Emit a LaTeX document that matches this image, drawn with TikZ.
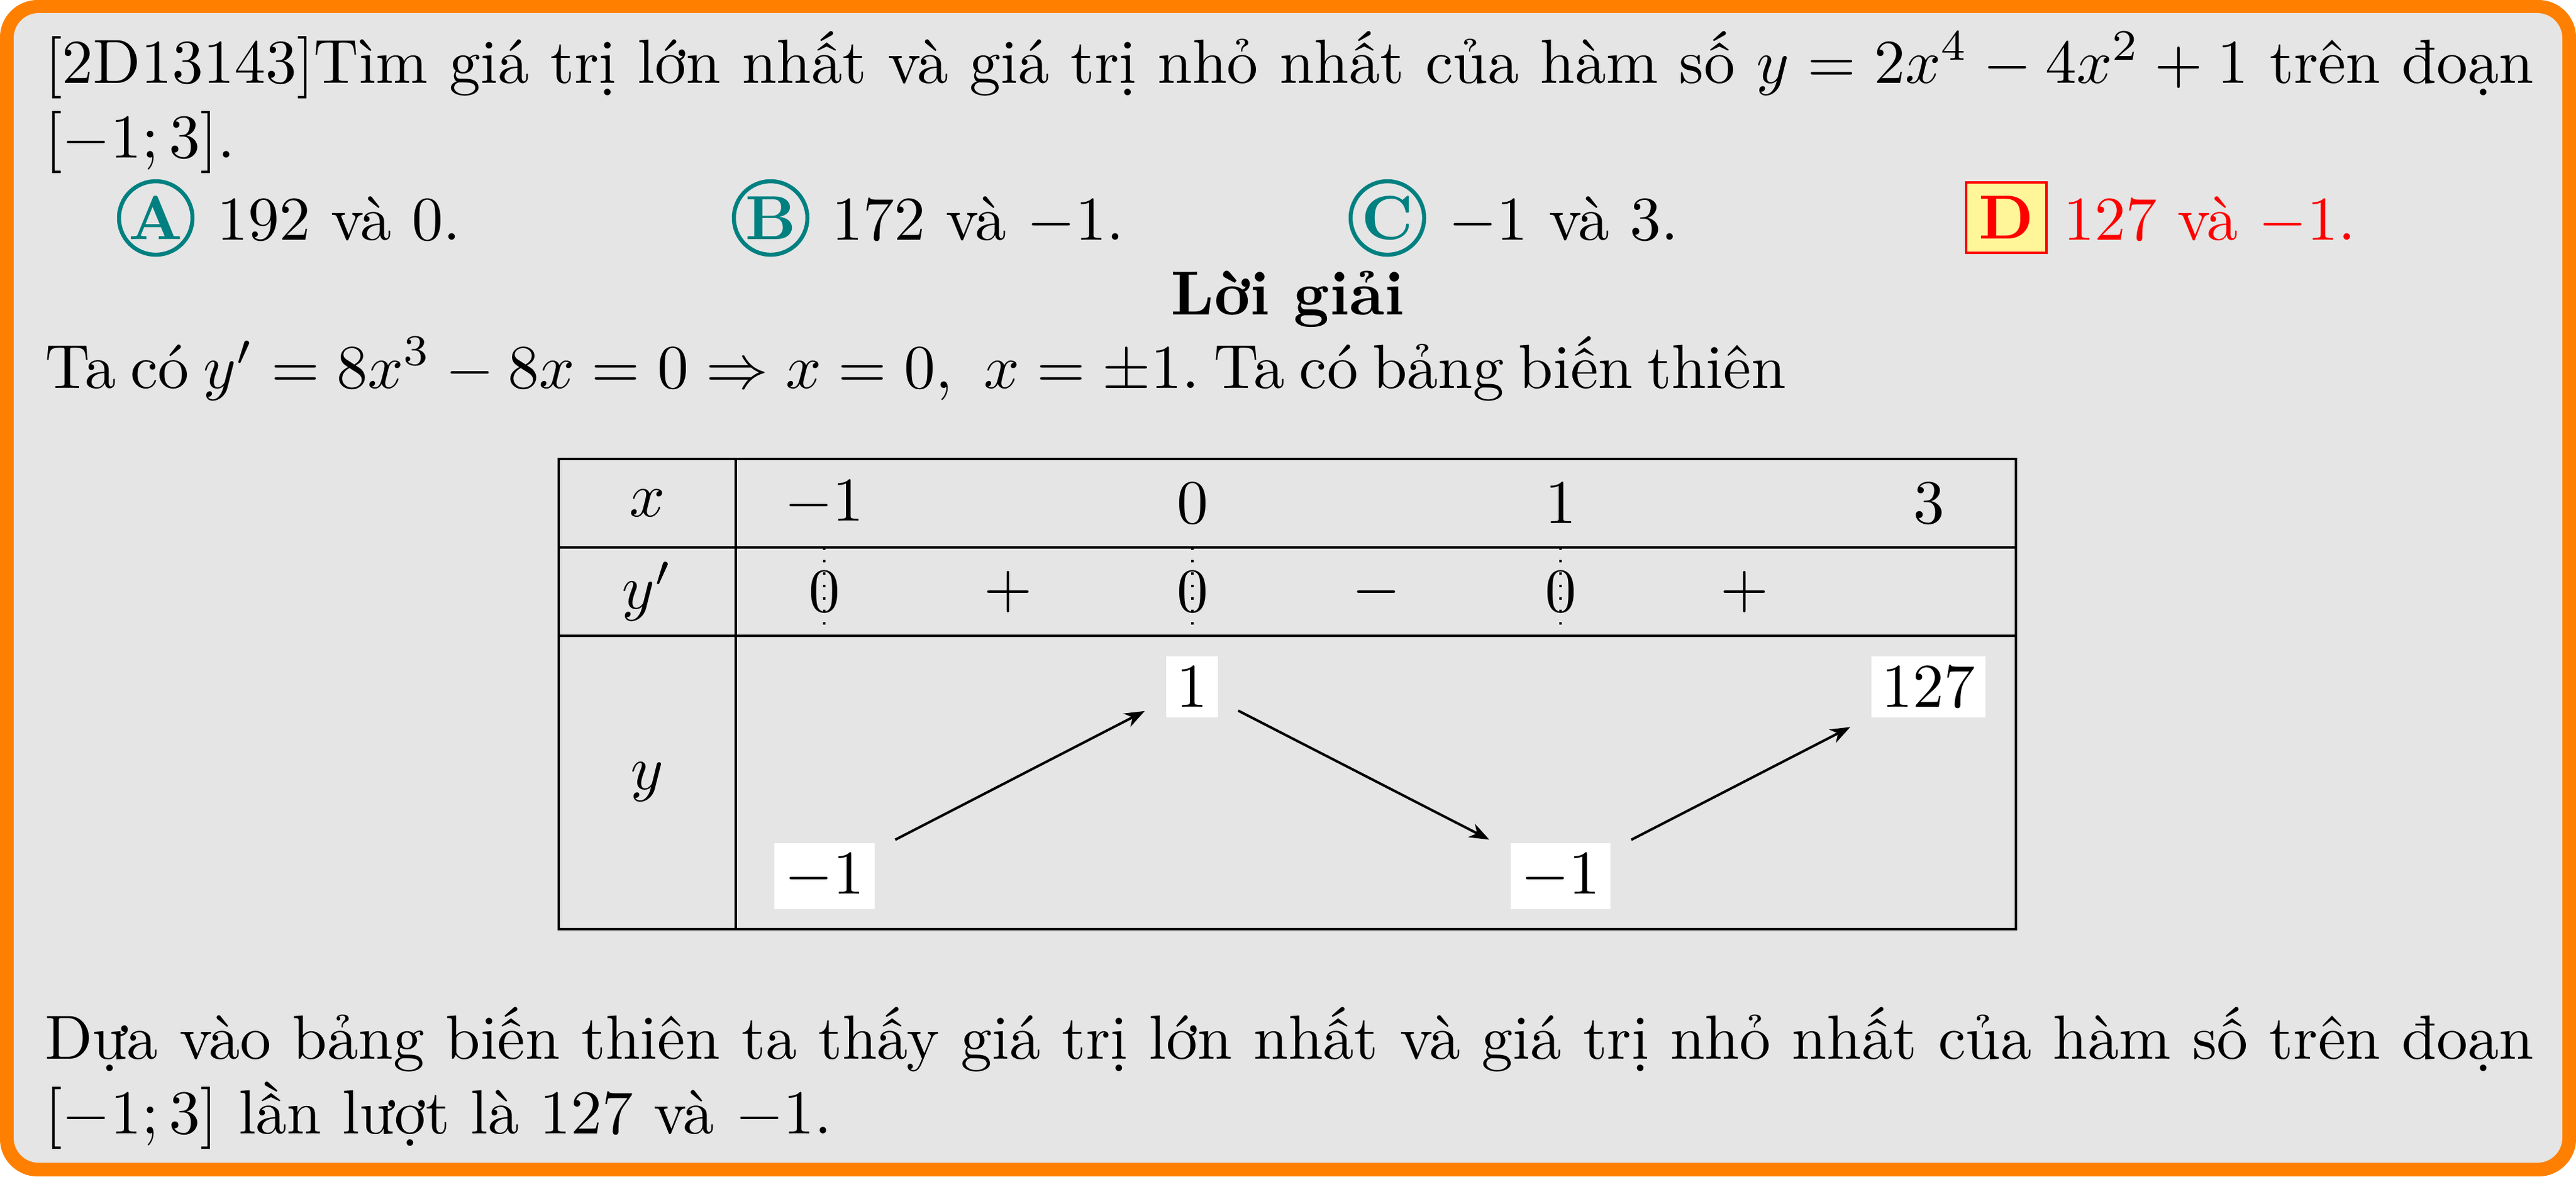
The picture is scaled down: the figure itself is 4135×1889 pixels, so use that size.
\documentclass[tikz,border=0pt]{standalone}
\usepackage{fontspec}
\usetikzlibrary{arrows.meta}
\definecolor{frameorange}{RGB}{255,128,0}
\definecolor{framegray}{RGB}{229,229,229}
\definecolor{dyellow}{RGB}{255,246,153}
\definecolor{choiceteal}{RGB}{0,128,128}
\hyphenpenalty=10000
\exhyphenpenalty=10000
\binoppenalty=10000
\relpenalty=10000
\tolerance=9999
\begin{document}
\begin{tikzpicture}[x=0.1pt,y=-0.1pt,
  para/.style={anchor=base west, inner sep=0pt, text width=399.5pt, align=justify},
  plain/.style={anchor=base west, inner sep=0pt},
  choicecirc/.style={circle, draw=choiceteal, line width=0.65pt, inner sep=0pt,
     minimum size=11.8pt, text=choiceteal, font=\bfseries},
  rightbox/.style={draw=red, fill=dyellow, line width=0.4pt, inner sep=0pt,
     minimum width=12.9pt, minimum height=11.3pt, text=red, font=\bfseries},
  tline/.style={line width=0.4pt},
  dotline/.style={line width=0.4pt, dash pattern=on 0.4pt off 1.6pt},
  yval/.style={anchor=base, fill=white, inner sep=1.65pt},
  varrow/.style={line width=0.4pt, -{Stealth[length=3.2pt,width=2.4pt,inset=1pt]},
     shorten <=3.5pt, shorten >=3.6pt}
]
\useasboundingbox (0,0) rectangle (4135,1889);
% frame
\fill[frameorange, rounded corners=6pt] (0,0) rectangle (4135,1889);
\fill[framegray, rounded corners=4pt] (22,21) rectangle (4113,1867);

% question
\node[para] (q) at (70,133) {[2D13143]Tìm giá trị lớn nhất và giá trị nhỏ nhất của hàm số $y=2x^4-4x^2+1$ trên đoạn\linebreak $[-1;3]$.};

% choices
\node[choicecirc] (cA) at (250,350) {A};
\node[plain] (tA) at (346,385) {192 và 0.};
\node[choicecirc] (cB) at (1237,350) {B};
\node[plain] (tB) at (1333,385) {172 và $-1$.};
\node[choicecirc] (cC) at (2227,350) {C};
\node[plain] (tC) at (2323,385) {$-1$ và 3.};
\node[rightbox] (cD) at (3220.5,349.5) {D};
\node[plain, text=red] (tD) at (3310,385) {127 và $-1$.};

% solution title
\node[anchor=base, inner sep=0pt, font=\bfseries] (lg) at (2067,505) {Lời giải};
\node[plain] (tc) at (70,623) {\makebox[279.5pt][s]{\frenchspacing\spaceskip=1pt plus 1fil\relax Ta có $y'=8x^3-8x=0\Rightarrow x=0,\hspace{3.33pt}x=\pm1$. Ta có bảng biến thiên}};

% table frame
\draw[tline] (897,737) rectangle (3236,1492);
\draw[tline] (1181,737) -- (1181,1492);
\draw[tline] (897,879) -- (3236,879);
\draw[tline] (897,1021) -- (3236,1021);

% row labels
\node (lx) at (1039,808) {$x$};
\node (ld) at (1039,950) {$y'$};
\node (ly) at (1039,1256) {$y$};

% x values
\node (x1) at (1323,808) {$-1$};
\node (x2) at (1914,808) {$0$};
\node (x3) at (2505,808) {$1$};
\node (x4) at (3096,808) {$3$};

% sign row
\node (z1) at (1323,950) {$0$};
\node (z2) at (1914,950) {$0$};
\node (z3) at (2505,950) {$0$};
\node (s1) at (1618,950) {$+$};
\node (s2) at (2209,950) {$-$};
\node (s3) at (2800,950) {$+$};
\draw[dotline] (1323,879) -- (1323,1021);
\draw[dotline] (1914,879) -- (1914,1021);
\draw[dotline] (2505,879) -- (2505,1021);

% variation row
\node[yval] (v1) at (1323.5,1435) {$-1$};
\node[yval] (v2) at (1913,1135) {$1$};
\node[yval] (v3) at (2505,1435) {$-1$};
\node[yval] (v4) at (3095.5,1135) {$127$};
\draw[varrow] (v1) -- (v2);
\draw[varrow] (v2) -- (v3);
\draw[varrow] (v3) -- (v4);

% conclusion
\node[para] (kl) at (70,1700) {Dựa vào bảng biến thiên ta thấy giá trị lớn nhất và giá trị nhỏ nhất của hàm số trên đoạn\linebreak $[-1;3]$ lần lượt là 127 và $-1$.};
\end{tikzpicture}
\end{document}
